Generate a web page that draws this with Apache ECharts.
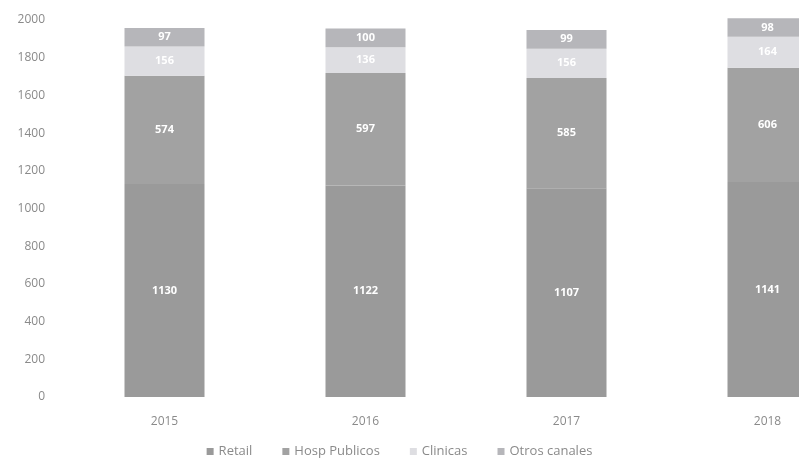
<!DOCTYPE html>
<html><head><meta charset="utf-8">
<script src="https://cdn.jsdelivr.net/npm/echarts@6/dist/echarts.min.js"></script>
<style>html,body{margin:0;padding:0;background:#fff}#c{width:799px;height:464px}</style>
</head><body><div id="c"></div>
<script>
const categories = ['2015', '2016', '2017', '2018'];
const retail = [1130, 1122, 1107, 1141];
const hospPublicos = [574, 597, 585, 606];
const clinicas = [156, 136, 156, 164];
const otrosCanales = [97, 100, 99, 98];
const yTicks = [0, 200, 400, 600, 800, 1000, 1200, 1400, 1600, 1800, 2000];

const chart = echarts.init(document.getElementById('c'), null, {renderer: 'canvas'});
const font = 'Open Sans';
function s(name, data, color) {
  return {
    name, type: 'bar', stack: 'total', data, barWidth: 80, clip: false,
    itemStyle: {color},
    label: {show: true, position: 'inside', color: '#ffffff', fontFamily: font, fontSize: 11, fontWeight: 'bold'}
  };
}
chart.setOption({
  animation: false,
  backgroundColor: '#ffffff',
  grid: {left: 64, top: 20, width: 804, height: 377, outerBoundsMode: 'none', containLabel: false},
  xAxis: {
    type: 'category', data: categories,
    axisLine: {show: false}, axisTick: {show: false},
    axisLabel: {color: '#8a8a8a', fontFamily: font, fontSize: 12, margin: 19}
  },
  yAxis: {
    type: 'value', min: yTicks[0], max: yTicks[yTicks.length - 1], interval: 200,
    splitLine: {show: false}, axisLine: {show: false}, axisTick: {show: false},
    axisLabel: {color: '#8a8a8a', fontFamily: font, fontSize: 12, margin: 19,
      formatter: v => String(v)}
  },
  legend: {
    bottom: 1, left: 'center', itemWidth: 7, itemHeight: 7, itemGap: 30,
    icon: 'rect',
    textStyle: {color: '#8a8a8a', fontFamily: font, fontSize: 13},
    data: ['Retail', 'Hosp Publicos', 'Clinicas', 'Otros canales']
  },
  series: [
    s('Retail', retail, '#9a9a9a'),
    s('Hosp Publicos', hospPublicos, '#a2a2a2'),
    s('Clinicas', clinicas, '#dedee2'),
    s('Otros canales', otrosCanales, '#b6b6ba')
  ]
});
</script></body></html>
